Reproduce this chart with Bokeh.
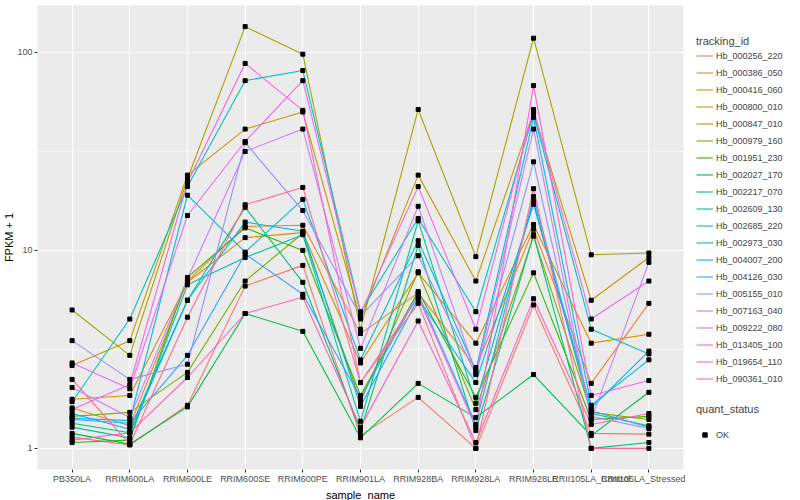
from bokeh.plotting import figure
from bokeh.models import Range1d, FixedTicker, Legend, LegendItem, ColumnDataSource, NumeralTickFormatter, Title
from bokeh.layouts import row
from bokeh.embed import file_html
from bokeh.resources import INLINE

samples = ["PB350LA", "RRIM600LA", "RRIM600LE", "RRIM600SE", "RRIM600PE", "RRIM901LA",
           "RRIM928BA", "RRIM928LA", "RRIM928LE", "RRII105LA_Control", "RRII105LA_Stressed"]

tracking_ids = ["Hb_000256_220", "Hb_000386_050", "Hb_000416_060", "Hb_000800_010", "Hb_000847_010",
                "Hb_000979_160", "Hb_001951_230", "Hb_002027_170", "Hb_002217_070", "Hb_002609_130",
                "Hb_002685_220", "Hb_002973_030", "Hb_004007_200", "Hb_004126_030", "Hb_005155_010",
                "Hb_007163_040", "Hb_009222_080", "Hb_013405_100", "Hb_019654_110", "Hb_090361_010"]

colors = ["#F8766D", "#EA8331", "#D89000", "#C09B00", "#A3A500", "#7CAE00", "#39B600", "#00BB4E",
          "#00BF7D", "#00C1A3", "#00BFC4", "#00BAE0", "#00B0F6", "#35A2FF", "#9590FF", "#C77CFF",
          "#E76BF3", "#FA62DB", "#FF62BC", "#FF6C91"]

# FPKM + 1 per sample (order of `samples`)
hb_000256_220 = [1.14, 1.04, 1.65, 6.6, 8.4, 1.16, 1.81, 1.00, 5.3, 1.19, 1.18]
hb_000386_050 = [1.60, 1.30, 7.0, 13.2, 13.4, 3.8, 6.1, 2.56, 12.8, 2.13, 5.4]
hb_000416_060 = [1.77, 1.85, 6.9, 11.6, 12.3, 2.7, 7.7, 3.4, 13.5, 3.4, 3.77]
hb_000800_010 = [2.62, 3.5, 24.0, 41.0, 50.0, 4.5, 24.0, 7.0, 50.0, 5.6, 9.2]
hb_000847_010 = [5.0, 2.95, 23.0, 135.0, 98.0, 4.0, 51.5, 9.3, 118.0, 9.5, 9.7]
hb_000979_160 = [1.45, 1.52, 2.42, 7.0, 12.2, 1.72, 7.8, 1.57, 11.8, 1.52, 1.40]
hb_001951_230 = [1.07, 1.10, 7.3, 13.0, 10.0, 1.85, 6.2, 1.81, 7.7, 1.40, 1.45]
hb_002027_170 = [1.19, 1.05, 1.62, 4.8, 3.9, 1.13, 2.13, 1.43, 2.36, 1.16, 1.92]
hb_002217_070 = [1.34, 1.20, 5.6, 16.5, 6.9, 1.23, 10.6, 1.23, 12.0, 1.00, 1.07]
hb_002609_130 = [1.28, 1.13, 6.7, 9.2, 12.0, 1.37, 14.1, 1.69, 17.7, 1.50, 1.30]
hb_002685_220 = [1.72, 4.5, 21.0, 72.0, 81.0, 4.9, 14.5, 4.9, 49.0, 4.0, 3.0]
hb_002973_030 = [1.42, 1.38, 19.0, 9.8, 18.1, 2.8, 11.2, 2.48, 47.0, 1.65, 2.8]
hb_004007_200 = [1.50, 1.25, 5.6, 13.9, 12.5, 1.63, 5.7, 2.15, 17.1, 1.60, 3.1]
hb_004126_030 = [1.40, 1.34, 2.95, 9.6, 6.0, 1.80, 6.0, 1.32, 18.7, 1.55, 1.28]
hb_005155_010 = [3.5, 2.23, 2.66, 35.0, 15.9, 4.65, 9.4, 2.36, 28.0, 1.45, 1.26]
hb_007163_040 = [2.03, 1.43, 7.2, 31.6, 41.0, 3.2, 16.7, 2.4, 41.0, 1.40, 8.7]
hb_009222_080 = [2.7, 2.0, 15.0, 35.5, 72.0, 4.8, 21.0, 4.0, 51.5, 4.5, 7.0]
hb_013405_100 = [1.57, 2.1, 22.0, 88.0, 51.0, 2.15, 5.8, 1.28, 68.0, 1.85, 2.2]
hb_019654_110 = [1.10, 1.20, 2.28, 4.8, 5.8, 1.28, 4.4, 1.07, 5.7, 1.32, 1.5]
hb_090361_010 = [2.23, 1.05, 4.6, 17.0, 20.8, 2.15, 5.4, 1.00, 20.5, 1.00, 1.00]

series = [hb_000256_220, hb_000386_050, hb_000416_060, hb_000800_010, hb_000847_010,
          hb_000979_160, hb_001951_230, hb_002027_170, hb_002217_070, hb_002609_130,
          hb_002685_220, hb_002973_030, hb_004007_200, hb_004126_030, hb_005155_010,
          hb_007163_040, hb_009222_080, hb_013405_100, hb_019654_110, hb_090361_010]

FONT = "Liberation Sans"
xs = list(range(len(samples)))

p = figure(width=685, height=500, x_range=Range1d(-0.6, len(samples) - 0.4),
           y_range=Range1d(0.782, 172.6), y_axis_type="log",
           output_backend="svg", toolbar_location=None,
           min_border_left=0, min_border_right=2, min_border_top=5, min_border_bottom=0,
           background_fill_color="#EBEBEB", border_fill_color="white", outline_line_color=None)

xt = FixedTicker(ticks=xs)
yt = FixedTicker(ticks=[1, 10, 100], minor_ticks=[10 ** 0.5, 10 ** 1.5])
p.xaxis.ticker = xt
p.yaxis.ticker = yt
p.xgrid.ticker = xt
p.ygrid.ticker = yt
p.xaxis.major_label_overrides = {i: s for i, s in enumerate(samples)}
p.yaxis.formatter = NumeralTickFormatter(format="0")

for g in (p.xgrid, p.ygrid):
    g.grid_line_color = "white"
    g.grid_line_width = 1.2
p.ygrid.minor_grid_line_color = "white"
p.ygrid.minor_grid_line_width = 0.6

for ax in (p.xaxis, p.yaxis):
    ax.axis_line_color = None
    ax.major_tick_line_color = "#333333"
    ax.major_tick_in = 0
    ax.major_tick_out = 3
    ax.minor_tick_line_color = None
    ax.major_label_text_color = "#4D4D4D"
    ax.major_label_text_font = FONT
    ax.major_label_text_font_size = "9px"
    ax.major_label_standoff = 1
    ax.axis_label_standoff = 0

p.add_layout(Title(text="sample_name", align="center", text_font=FONT, text_font_size="11px",
                   text_font_style="normal", text_color="black", standoff=0, offset=0), "below")
p.add_layout(Title(text="FPKM + 1", align="center", text_font=FONT, text_font_size="11px",
                   text_font_style="normal", text_color="black", standoff=0, offset=0), "left")

for col, vals in zip(colors, series):
    p.line(xs, vals, line_color=col, line_width=1.1)

px, py = [], []
for vals in series:
    px.extend(xs)
    py.extend(vals)
p.scatter(x="x", y="y", source=ColumnDataSource(dict(x=px, y=py)),
          marker="square", size=4, fill_color="black", line_color="black")

# legend panel
q = figure(width=115, height=500, x_range=Range1d(0, 1), y_range=Range1d(0, 1),
           x_axis_location=None, y_axis_location=None, output_backend="svg",
           toolbar_location=None, min_border=0, outline_line_color=None,
           background_fill_color="white", border_fill_color="white")
q.grid.visible = False

items = []
for tid, col in zip(tracking_ids, colors):
    r = q.line([5, 6], [5, 5], line_color=col, line_width=1.1)
    items.append(LegendItem(label=tid, renderers=[r]))
pts = q.scatter([5], [5], marker="square", size=4, fill_color="black", line_color="black")

def style(leg):
    leg.glyph_width = 17
    leg.glyph_height = 17
    leg.label_height = 17
    leg.label_standoff = 3
    leg.spacing = 0
    leg.padding = 0
    leg.margin = 0
    leg.border_line_color = None
    leg.background_fill_alpha = 0
    leg.label_text_font = FONT
    leg.label_text_font_size = "9px"
    leg.title_text_font = FONT
    leg.title_text_font_size = "11px"
    leg.title_text_font_style = "normal"
    leg.title_standoff = 0

leg1 = Legend(items=items, location=(11, 82), title="tracking_id")
style(leg1)
q.add_layout(leg1)

leg2 = Legend(items=[LegendItem(label="OK", renderers=[pts])], location=(11, 26), title="quant_status")
style(leg2)
leg2.glyph_height = 11
leg2.title_standoff = 11
q.add_layout(leg2)

layout = row(p, q, spacing=0)
open("out.html", "w").write(file_html(layout, INLINE))
